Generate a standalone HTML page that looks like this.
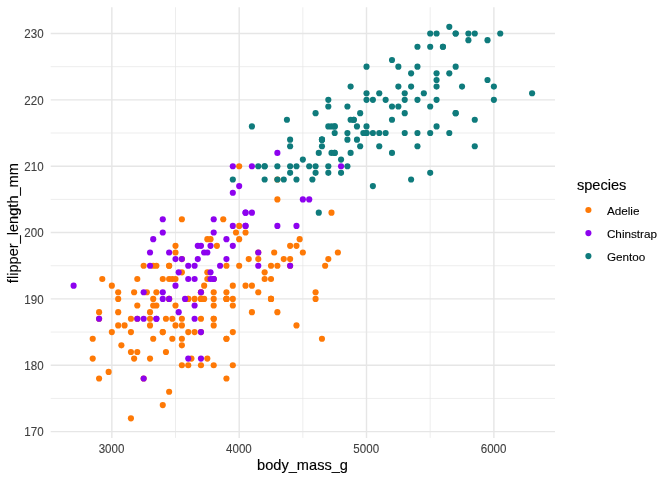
<!DOCTYPE html>
<html lang="en"><head><meta charset="utf-8"><title>penguins: flipper length vs body mass</title>
<style>
html,body{margin:0;padding:0;background:#fff;}
body{width:672px;height:480px;overflow:hidden;}
svg{display:block;}
text{font-family:"Liberation Sans",Arial,Helvetica,sans-serif;}
.at{font-size:11.73px;fill:#404040;stroke:#404040;stroke-width:0.1;}
.ti{font-size:14.6px;fill:#000;stroke:#000;stroke-width:0.15;}
.ll{font-size:11.73px;fill:#000;stroke:#000;stroke-width:0.1;}
</style></head><body>
<svg width="672" height="480" viewBox="0 0 672 480">
<rect width="672" height="480" fill="#fff"/>
<g stroke="#E6E6E6" fill="none" stroke-linecap="butt">
<line x1="50.7" x2="555" y1="398.42" y2="398.42" stroke-width="0.71"/>
<line x1="50.7" x2="555" y1="332.07" y2="332.07" stroke-width="0.71"/>
<line x1="50.7" x2="555" y1="265.73" y2="265.73" stroke-width="0.71"/>
<line x1="50.7" x2="555" y1="199.38" y2="199.38" stroke-width="0.71"/>
<line x1="50.7" x2="555" y1="133.03" y2="133.03" stroke-width="0.71"/>
<line x1="50.7" x2="555" y1="66.68" y2="66.68" stroke-width="0.71"/>
<line x1="175.5" x2="175.5" y1="7.3" y2="437.9" stroke-width="0.71"/>
<line x1="302.85" x2="302.85" y1="7.3" y2="437.9" stroke-width="0.71"/>
<line x1="430.2" x2="430.2" y1="7.3" y2="437.9" stroke-width="0.71"/>
<line x1="50.7" x2="555" y1="431.6" y2="431.6" stroke-width="1.42"/>
<line x1="50.7" x2="555" y1="365.25" y2="365.25" stroke-width="1.42"/>
<line x1="50.7" x2="555" y1="298.9" y2="298.9" stroke-width="1.42"/>
<line x1="50.7" x2="555" y1="232.55" y2="232.55" stroke-width="1.42"/>
<line x1="50.7" x2="555" y1="166.2" y2="166.2" stroke-width="1.42"/>
<line x1="50.7" x2="555" y1="99.86" y2="99.86" stroke-width="1.42"/>
<line x1="50.7" x2="555" y1="33.51" y2="33.51" stroke-width="1.42"/>
<line x1="111.83" x2="111.83" y1="7.3" y2="437.9" stroke-width="1.42"/>
<line x1="239.18" x2="239.18" y1="7.3" y2="437.9" stroke-width="1.42"/>
<line x1="366.52" x2="366.52" y1="7.3" y2="437.9" stroke-width="1.42"/>
<line x1="493.87" x2="493.87" y1="7.3" y2="437.9" stroke-width="1.42"/>
</g>
<g fill="#FE7906">
<circle cx="207.34" cy="358.61" r="3.07"/><circle cx="213.71" cy="325.44" r="3.07"/><circle cx="143.66" cy="265.73" r="3.07"/><circle cx="169.13" cy="279" r="3.07"/><circle cx="194.6" cy="298.9" r="3.07"/><circle cx="191.42" cy="358.61" r="3.07"/><circle cx="325.14" cy="265.73" r="3.07"/><circle cx="172.32" cy="279" r="3.07"/><circle cx="271.01" cy="298.9" r="3.07"/><circle cx="150.03" cy="325.44" r="3.07"/><circle cx="200.97" cy="365.25" r="3.07"/><circle cx="137.3" cy="351.98" r="3.07"/><circle cx="213.71" cy="292.27" r="3.07"/><circle cx="290.12" cy="245.82" r="3.07"/><circle cx="200.97" cy="332.07" r="3.07"/><circle cx="169.13" cy="265.73" r="3.07"/><circle cx="302.85" cy="252.46" r="3.07"/><circle cx="153.22" cy="338.71" r="3.07"/><circle cx="264.65" cy="272.36" r="3.07"/><circle cx="162.77" cy="405.06" r="3.07"/><circle cx="188.24" cy="365.25" r="3.07"/><circle cx="213.71" cy="305.54" r="3.07"/><circle cx="232.81" cy="332.07" r="3.07"/><circle cx="213.71" cy="365.25" r="3.07"/><circle cx="213.71" cy="318.8" r="3.07"/><circle cx="181.87" cy="345.34" r="3.07"/><circle cx="137.3" cy="318.8" r="3.07"/><circle cx="130.93" cy="418.33" r="3.07"/><circle cx="232.81" cy="365.25" r="3.07"/><circle cx="143.66" cy="378.52" r="3.07"/><circle cx="226.44" cy="378.52" r="3.07"/><circle cx="150.03" cy="312.17" r="3.07"/><circle cx="226.44" cy="338.71" r="3.07"/><circle cx="153.22" cy="265.73" r="3.07"/><circle cx="258.28" cy="259.09" r="3.07"/><circle cx="232.81" cy="298.9" r="3.07"/><circle cx="181.87" cy="365.25" r="3.07"/><circle cx="150.03" cy="358.61" r="3.07"/><circle cx="321.95" cy="338.71" r="3.07"/><circle cx="130.93" cy="351.98" r="3.07"/><circle cx="226.44" cy="265.73" r="3.07"/><circle cx="124.56" cy="325.44" r="3.07"/><circle cx="290.12" cy="259.09" r="3.07"/><circle cx="111.83" cy="332.07" r="3.07"/><circle cx="315.58" cy="298.9" r="3.07"/><circle cx="165.95" cy="351.98" r="3.07"/><circle cx="108.64" cy="371.88" r="3.07"/><circle cx="169.13" cy="298.9" r="3.07"/><circle cx="258.28" cy="292.27" r="3.07"/><circle cx="175.5" cy="325.44" r="3.07"/><circle cx="277.38" cy="312.17" r="3.07"/><circle cx="169.13" cy="298.9" r="3.07"/><circle cx="245.54" cy="232.55" r="3.07"/><circle cx="99.09" cy="318.8" r="3.07"/><circle cx="200.97" cy="292.27" r="3.07"/><circle cx="181.87" cy="325.44" r="3.07"/><circle cx="213.71" cy="279" r="3.07"/><circle cx="92.72" cy="358.61" r="3.07"/><circle cx="207.34" cy="272.36" r="3.07"/><circle cx="130.93" cy="332.07" r="3.07"/><circle cx="290.12" cy="265.73" r="3.07"/><circle cx="188.24" cy="332.07" r="3.07"/><circle cx="245.54" cy="285.63" r="3.07"/><circle cx="92.72" cy="338.71" r="3.07"/><circle cx="232.81" cy="285.63" r="3.07"/><circle cx="156.4" cy="265.73" r="3.07"/><circle cx="251.91" cy="312.17" r="3.07"/><circle cx="118.19" cy="298.9" r="3.07"/><circle cx="296.48" cy="245.82" r="3.07"/><circle cx="188.24" cy="298.9" r="3.07"/><circle cx="226.44" cy="298.9" r="3.07"/><circle cx="181.87" cy="259.09" r="3.07"/><circle cx="258.28" cy="252.46" r="3.07"/><circle cx="200.97" cy="298.9" r="3.07"/><circle cx="271.01" cy="265.73" r="3.07"/><circle cx="200.97" cy="292.27" r="3.07"/><circle cx="226.44" cy="338.71" r="3.07"/><circle cx="181.87" cy="318.8" r="3.07"/><circle cx="239.18" cy="265.73" r="3.07"/><circle cx="137.3" cy="305.54" r="3.07"/><circle cx="328.32" cy="259.09" r="3.07"/><circle cx="213.71" cy="318.8" r="3.07"/><circle cx="264.65" cy="279" r="3.07"/><circle cx="156.4" cy="292.27" r="3.07"/><circle cx="181.87" cy="272.36" r="3.07"/><circle cx="213.71" cy="298.9" r="3.07"/><circle cx="175.5" cy="305.54" r="3.07"/><circle cx="232.81" cy="305.54" r="3.07"/><circle cx="188.24" cy="298.9" r="3.07"/><circle cx="181.87" cy="219.28" r="3.07"/><circle cx="277.38" cy="199.38" r="3.07"/><circle cx="162.77" cy="332.07" r="3.07"/><circle cx="296.48" cy="325.44" r="3.07"/><circle cx="150.03" cy="318.8" r="3.07"/><circle cx="277.38" cy="179.47" r="3.07"/><circle cx="200.97" cy="298.9" r="3.07"/><circle cx="283.75" cy="259.09" r="3.07"/><circle cx="99.09" cy="378.52" r="3.07"/><circle cx="251.91" cy="285.63" r="3.07"/><circle cx="204.15" cy="285.63" r="3.07"/><circle cx="331.5" cy="212.65" r="3.07"/><circle cx="121.38" cy="345.34" r="3.07"/><circle cx="271.01" cy="298.9" r="3.07"/><circle cx="102.28" cy="279" r="3.07"/><circle cx="181.87" cy="338.71" r="3.07"/><circle cx="207.34" cy="239.19" r="3.07"/><circle cx="226.44" cy="298.9" r="3.07"/><circle cx="134.11" cy="358.61" r="3.07"/><circle cx="337.87" cy="252.46" r="3.07"/><circle cx="216.89" cy="245.82" r="3.07"/><circle cx="315.58" cy="292.27" r="3.07"/><circle cx="137.3" cy="279" r="3.07"/><circle cx="274.2" cy="252.46" r="3.07"/><circle cx="226.44" cy="292.27" r="3.07"/><circle cx="248.73" cy="259.09" r="3.07"/><circle cx="99.09" cy="312.17" r="3.07"/><circle cx="210.52" cy="239.19" r="3.07"/><circle cx="156.4" cy="305.54" r="3.07"/><circle cx="153.22" cy="305.54" r="3.07"/><circle cx="130.93" cy="318.8" r="3.07"/><circle cx="175.5" cy="245.82" r="3.07"/><circle cx="169.13" cy="391.79" r="3.07"/><circle cx="223.26" cy="219.28" r="3.07"/><circle cx="118.19" cy="325.44" r="3.07"/><circle cx="239.18" cy="239.19" r="3.07"/><circle cx="146.85" cy="292.27" r="3.07"/><circle cx="277.38" cy="265.73" r="3.07"/><circle cx="118.19" cy="292.27" r="3.07"/><circle cx="239.18" cy="166.2" r="3.07"/><circle cx="153.22" cy="298.9" r="3.07"/><circle cx="175.5" cy="252.46" r="3.07"/><circle cx="175.5" cy="279" r="3.07"/><circle cx="299.67" cy="239.19" r="3.07"/><circle cx="165.95" cy="318.8" r="3.07"/><circle cx="226.44" cy="298.9" r="3.07"/><circle cx="134.11" cy="292.27" r="3.07"/><circle cx="235.99" cy="232.55" r="3.07"/><circle cx="162.77" cy="332.07" r="3.07"/><circle cx="271.01" cy="279" r="3.07"/><circle cx="162.77" cy="279" r="3.07"/><circle cx="172.32" cy="318.8" r="3.07"/><circle cx="118.19" cy="312.17" r="3.07"/><circle cx="204.15" cy="298.9" r="3.07"/><circle cx="111.83" cy="285.63" r="3.07"/><circle cx="194.6" cy="332.07" r="3.07"/><circle cx="271.01" cy="298.9" r="3.07"/><circle cx="172.32" cy="338.71" r="3.07"/><circle cx="169.13" cy="265.73" r="3.07"/><circle cx="207.34" cy="279" r="3.07"/><circle cx="200.97" cy="318.8" r="3.07"/><circle cx="239.18" cy="225.92" r="3.07"/>
</g>
<g fill="#0F7B7C">
<circle cx="302.85" cy="159.57" r="3.07"/><circle cx="455.67" cy="33.51" r="3.07"/><circle cx="296.48" cy="166.2" r="3.07"/><circle cx="455.67" cy="113.13" r="3.07"/><circle cx="417.46" cy="133.03" r="3.07"/><circle cx="309.22" cy="166.2" r="3.07"/><circle cx="341.05" cy="159.57" r="3.07"/><circle cx="391.99" cy="106.49" r="3.07"/><circle cx="290.12" cy="172.84" r="3.07"/><circle cx="385.63" cy="133.03" r="3.07"/><circle cx="321.95" cy="139.66" r="3.07"/><circle cx="436.57" cy="126.4" r="3.07"/><circle cx="321.95" cy="139.66" r="3.07"/><circle cx="474.77" cy="146.3" r="3.07"/><circle cx="264.65" cy="166.2" r="3.07"/><circle cx="474.77" cy="119.76" r="3.07"/><circle cx="258.28" cy="166.2" r="3.07"/><circle cx="532.08" cy="93.22" r="3.07"/><circle cx="341.05" cy="172.84" r="3.07"/><circle cx="411.1" cy="86.59" r="3.07"/><circle cx="455.67" cy="113.13" r="3.07"/><circle cx="366.52" cy="133.03" r="3.07"/><circle cx="290.12" cy="146.3" r="3.07"/><circle cx="372.89" cy="133.03" r="3.07"/><circle cx="366.52" cy="133.03" r="3.07"/><circle cx="379.26" cy="133.03" r="3.07"/><circle cx="251.91" cy="126.4" r="3.07"/><circle cx="449.3" cy="133.03" r="3.07"/><circle cx="315.58" cy="166.2" r="3.07"/><circle cx="436.57" cy="99.86" r="3.07"/><circle cx="398.36" cy="86.59" r="3.07"/><circle cx="328.32" cy="172.84" r="3.07"/><circle cx="372.89" cy="186.11" r="3.07"/><circle cx="500.24" cy="33.51" r="3.07"/><circle cx="385.63" cy="99.86" r="3.07"/><circle cx="417.46" cy="99.86" r="3.07"/><circle cx="360.16" cy="146.3" r="3.07"/><circle cx="398.36" cy="106.49" r="3.07"/><circle cx="283.75" cy="179.47" r="3.07"/><circle cx="411.1" cy="179.47" r="3.07"/><circle cx="232.81" cy="179.47" r="3.07"/><circle cx="455.67" cy="66.68" r="3.07"/><circle cx="277.38" cy="166.2" r="3.07"/><circle cx="334.69" cy="126.4" r="3.07"/><circle cx="436.57" cy="86.59" r="3.07"/><circle cx="353.79" cy="119.76" r="3.07"/><circle cx="264.65" cy="166.2" r="3.07"/><circle cx="417.46" cy="66.68" r="3.07"/><circle cx="379.26" cy="146.3" r="3.07"/><circle cx="404.73" cy="133.03" r="3.07"/><circle cx="347.42" cy="166.2" r="3.07"/><circle cx="404.73" cy="99.86" r="3.07"/><circle cx="290.12" cy="166.2" r="3.07"/><circle cx="366.52" cy="66.68" r="3.07"/><circle cx="353.79" cy="119.76" r="3.07"/><circle cx="372.89" cy="99.86" r="3.07"/><circle cx="277.38" cy="179.47" r="3.07"/><circle cx="366.52" cy="99.86" r="3.07"/><circle cx="296.48" cy="179.47" r="3.07"/><circle cx="436.57" cy="73.32" r="3.07"/><circle cx="264.65" cy="179.47" r="3.07"/><circle cx="404.73" cy="93.22" r="3.07"/><circle cx="290.12" cy="139.66" r="3.07"/><circle cx="449.3" cy="26.87" r="3.07"/><circle cx="328.32" cy="106.49" r="3.07"/><circle cx="455.67" cy="33.51" r="3.07"/><circle cx="321.95" cy="139.66" r="3.07"/><circle cx="468.4" cy="40.14" r="3.07"/><circle cx="328.32" cy="99.86" r="3.07"/><circle cx="436.57" cy="79.95" r="3.07"/><circle cx="334.69" cy="126.4" r="3.07"/><circle cx="366.52" cy="93.22" r="3.07"/><circle cx="379.26" cy="93.22" r="3.07"/><circle cx="391.99" cy="119.76" r="3.07"/><circle cx="328.32" cy="126.4" r="3.07"/><circle cx="468.4" cy="33.51" r="3.07"/><circle cx="315.58" cy="172.84" r="3.07"/><circle cx="493.87" cy="99.86" r="3.07"/><circle cx="334.69" cy="133.03" r="3.07"/><circle cx="487.51" cy="79.95" r="3.07"/><circle cx="318.77" cy="152.93" r="3.07"/><circle cx="423.83" cy="93.22" r="3.07"/><circle cx="331.5" cy="152.93" r="3.07"/><circle cx="411.1" cy="73.32" r="3.07"/><circle cx="334.69" cy="152.93" r="3.07"/><circle cx="442.93" cy="46.78" r="3.07"/><circle cx="315.58" cy="113.13" r="3.07"/><circle cx="404.73" cy="113.13" r="3.07"/><circle cx="350.61" cy="152.93" r="3.07"/><circle cx="436.57" cy="33.51" r="3.07"/><circle cx="360.16" cy="113.13" r="3.07"/><circle cx="417.46" cy="46.78" r="3.07"/><circle cx="334.69" cy="152.93" r="3.07"/><circle cx="449.3" cy="73.32" r="3.07"/><circle cx="347.42" cy="139.66" r="3.07"/><circle cx="391.99" cy="60.05" r="3.07"/><circle cx="356.97" cy="126.4" r="3.07"/><circle cx="350.61" cy="86.59" r="3.07"/><circle cx="318.77" cy="212.65" r="3.07"/><circle cx="398.36" cy="66.68" r="3.07"/><circle cx="347.42" cy="106.49" r="3.07"/><circle cx="442.93" cy="46.78" r="3.07"/><circle cx="363.34" cy="133.03" r="3.07"/><circle cx="430.2" cy="46.78" r="3.07"/><circle cx="331.5" cy="126.4" r="3.07"/><circle cx="430.2" cy="133.03" r="3.07"/><circle cx="328.32" cy="166.2" r="3.07"/><circle cx="430.2" cy="106.49" r="3.07"/><circle cx="312.4" cy="179.47" r="3.07"/><circle cx="430.2" cy="172.84" r="3.07"/><circle cx="366.52" cy="126.4" r="3.07"/><circle cx="487.51" cy="40.14" r="3.07"/><circle cx="321.95" cy="146.3" r="3.07"/><circle cx="430.2" cy="33.51" r="3.07"/><circle cx="286.93" cy="119.76" r="3.07"/><circle cx="474.77" cy="33.51" r="3.07"/><circle cx="350.61" cy="119.76" r="3.07"/><circle cx="493.87" cy="86.59" r="3.07"/><circle cx="356.97" cy="139.66" r="3.07"/><circle cx="347.42" cy="133.03" r="3.07"/><circle cx="462.04" cy="86.59" r="3.07"/><circle cx="391.99" cy="152.93" r="3.07"/><circle cx="417.46" cy="146.3" r="3.07"/>
</g>
<g fill="#8D02EF">
<circle cx="175.5" cy="285.63" r="3.07"/><circle cx="226.44" cy="259.09" r="3.07"/><circle cx="194.6" cy="279" r="3.07"/><circle cx="178.69" cy="312.17" r="3.07"/><circle cx="204.15" cy="252.46" r="3.07"/><circle cx="232.81" cy="245.82" r="3.07"/><circle cx="143.66" cy="378.52" r="3.07"/><circle cx="207.34" cy="252.46" r="3.07"/><circle cx="258.28" cy="265.73" r="3.07"/><circle cx="200.97" cy="245.82" r="3.07"/><circle cx="213.71" cy="279" r="3.07"/><circle cx="210.52" cy="272.36" r="3.07"/><circle cx="200.97" cy="332.07" r="3.07"/><circle cx="245.54" cy="225.92" r="3.07"/><circle cx="185.05" cy="298.9" r="3.07"/><circle cx="245.54" cy="225.92" r="3.07"/><circle cx="150.03" cy="252.46" r="3.07"/><circle cx="200.97" cy="358.61" r="3.07"/><circle cx="169.13" cy="298.9" r="3.07"/><circle cx="290.12" cy="265.73" r="3.07"/><circle cx="188.24" cy="358.61" r="3.07"/><circle cx="162.77" cy="292.27" r="3.07"/><circle cx="99.09" cy="318.8" r="3.07"/><circle cx="213.71" cy="279" r="3.07"/><circle cx="150.03" cy="265.73" r="3.07"/><circle cx="258.28" cy="252.46" r="3.07"/><circle cx="162.77" cy="232.55" r="3.07"/><circle cx="213.71" cy="232.55" r="3.07"/><circle cx="200.97" cy="292.27" r="3.07"/><circle cx="309.22" cy="199.38" r="3.07"/><circle cx="137.3" cy="318.8" r="3.07"/><circle cx="277.38" cy="225.92" r="3.07"/><circle cx="156.4" cy="318.8" r="3.07"/><circle cx="251.91" cy="212.65" r="3.07"/><circle cx="188.24" cy="265.73" r="3.07"/><circle cx="226.44" cy="239.19" r="3.07"/><circle cx="220.07" cy="265.73" r="3.07"/><circle cx="341.05" cy="166.2" r="3.07"/><circle cx="73.62" cy="285.63" r="3.07"/><circle cx="302.85" cy="199.38" r="3.07"/><circle cx="232.81" cy="166.2" r="3.07"/><circle cx="194.6" cy="318.8" r="3.07"/><circle cx="181.87" cy="259.09" r="3.07"/><circle cx="175.5" cy="259.09" r="3.07"/><circle cx="197.79" cy="259.09" r="3.07"/><circle cx="296.48" cy="225.92" r="3.07"/><circle cx="162.77" cy="298.9" r="3.07"/><circle cx="277.38" cy="152.93" r="3.07"/><circle cx="143.66" cy="318.8" r="3.07"/><circle cx="197.79" cy="245.82" r="3.07"/><circle cx="153.22" cy="239.19" r="3.07"/><circle cx="232.81" cy="225.92" r="3.07"/><circle cx="188.24" cy="279" r="3.07"/><circle cx="245.54" cy="212.65" r="3.07"/><circle cx="156.4" cy="318.8" r="3.07"/><circle cx="169.13" cy="252.46" r="3.07"/><circle cx="143.66" cy="292.27" r="3.07"/><circle cx="245.54" cy="212.65" r="3.07"/><circle cx="213.71" cy="219.28" r="3.07"/><circle cx="178.69" cy="272.36" r="3.07"/><circle cx="232.81" cy="192.74" r="3.07"/><circle cx="194.6" cy="305.54" r="3.07"/><circle cx="194.6" cy="265.73" r="3.07"/><circle cx="239.18" cy="186.11" r="3.07"/><circle cx="162.77" cy="219.28" r="3.07"/><circle cx="210.52" cy="279" r="3.07"/><circle cx="251.91" cy="166.2" r="3.07"/><circle cx="210.52" cy="245.82" r="3.07"/>
</g>
<text class="at" text-anchor="end" transform="translate(43.6,436) scale(0.985,1.05)">170</text>
<text class="at" text-anchor="end" transform="translate(43.6,370) scale(0.985,1.05)">180</text>
<text class="at" text-anchor="end" transform="translate(43.6,304) scale(0.985,1.05)">190</text>
<text class="at" text-anchor="end" transform="translate(43.6,237) scale(0.985,1.05)">200</text>
<text class="at" text-anchor="end" transform="translate(43.6,171) scale(0.985,1.05)">210</text>
<text class="at" text-anchor="end" transform="translate(43.6,105) scale(0.985,1.05)">220</text>
<text class="at" text-anchor="end" transform="translate(43.6,38) scale(0.985,1.05)">230</text>
<text class="at" text-anchor="middle" transform="translate(111.53,452.6) scale(0.985,1.05)">3000</text>
<text class="at" text-anchor="middle" transform="translate(238.88,452.6) scale(0.985,1.05)">4000</text>
<text class="at" text-anchor="middle" transform="translate(366.22,452.6) scale(0.985,1.05)">5000</text>
<text class="at" text-anchor="middle" transform="translate(493.57,452.6) scale(0.985,1.05)">6000</text>
<text class="ti" text-anchor="middle" transform="translate(302.55,470)">body_mass_g</text>
<text class="ti" text-anchor="middle" transform="translate(17.7,223.1) rotate(-90)">flipper_length_mm</text>
<text class="ti" transform="translate(576.9,190)">species</text>
<circle cx="588.4" cy="210" r="3.07" fill="#FE7906"/>
<text class="ll" transform="translate(606.9,215)">Adelie</text>
<circle cx="588.4" cy="233.1" r="3.07" fill="#8D02EF"/>
<text class="ll" transform="translate(606.9,238)">Chinstrap</text>
<circle cx="588.4" cy="256.1" r="3.07" fill="#0F7B7C"/>
<text class="ll" transform="translate(606.9,261)">Gentoo</text>
</svg>
</body></html>
